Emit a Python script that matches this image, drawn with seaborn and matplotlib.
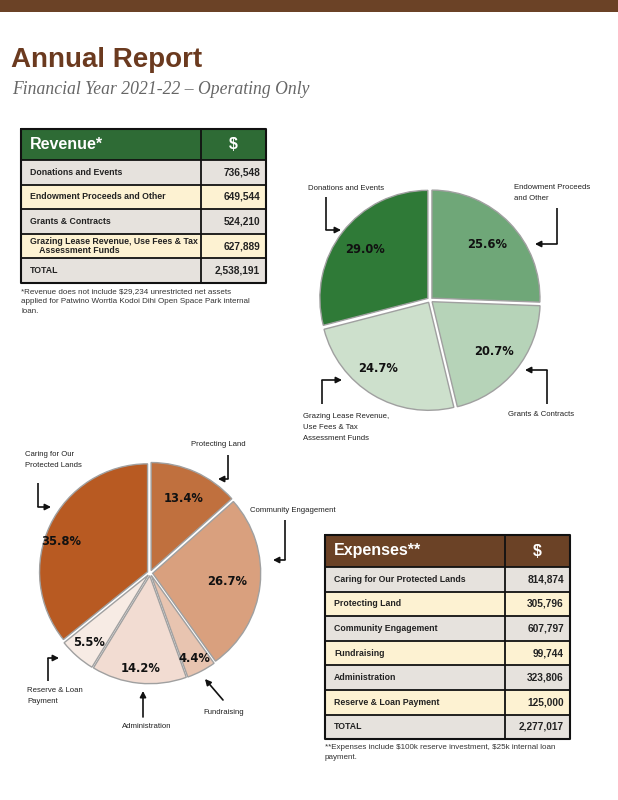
import numpy as np
import matplotlib
matplotlib.use("Agg")
import matplotlib.pyplot as plt
from matplotlib.patches import Rectangle
import seaborn as sns

sns.set_style("white")
plt.rcParams['font.family'] = ['Liberation Sans', 'DejaVu Sans']

# ---------------- data ----------------
rev_labels = ["Donations and Events", "Endowment Proceeds and Other", "Grants & Contracts",
              "Grazing Lease Revenue, Use Fees & Tax\n    Assessment Funds"]
rev_pie_labels = ["Donations and Events", "Endowment Proceeds\nand Other", "Grants & Contracts",
                  "Grazing Lease Revenue,\nUse Fees & Tax\nAssessment Funds"]
rev_values = [736548, 649544, 524210, 627889]
rev_total = 2538191

exp_labels = ["Caring for Our Protected Lands", "Protecting Land", "Community Engagement",
              "Fundraising", "Administration", "Reserve & Loan Payment"]
exp_pie_labels = ["Caring for Our\nProtected Lands", "Protecting Land", "Community Engagement",
                  "Fundraising", "Administration", "Reserve & Loan\nPayment"]
exp_values = [814874, 305796, 607797, 99744, 323806, 125000]
exp_total = 2277017

rev_colors = ["#2f7a37", "#6fa778", "#b6d3b8", "#cde0cc"]
exp_colors = ["#b85a22", "#c0703e", "#d9a07e", "#e8c4b0", "#f2dcd2", "#f7ebe4"]

W, H = 618, 800
fig = plt.figure(figsize=(W / 100, H / 100), dpi=100)
bg = fig.add_axes([0, 0, 1, 1])
bg.set_xlim(0, W)
bg.set_ylim(H, 0)
bg.axis("off")

BROWN = "#6b4226"
GRAY_ROW = "#e6e2dd"
CREAM_ROW = "#fdf2d2"

# top bar
bg.add_patch(Rectangle((0, 0), W, 12, color=BROWN, lw=0))
bg.text(11, 60, "Annual Report", fontsize=20, fontweight="bold", color="#6b3a1f",
        va="center", ha="left")
bg.text(12, 90, "Financial Year 2021-22 \u2013 Operating Only", fontsize=12.7,
        family=["Liberation Serif", "DejaVu Serif"], style="italic", color="#666666",
        va="center", ha="left")


def draw_table(x0, y0, x1, xsplit, head_h, row_h, title, head_color, labels, values, total):
    rows = list(zip(labels, values)) + [("TOTAL", total)]
    n = len(rows)
    y_end = y0 + head_h + n * row_h
    bg.add_patch(Rectangle((x0, y0), x1 - x0, head_h, color=head_color, lw=0))
    bg.text(x0 + 9, y0 + head_h / 2, title, color="white", fontsize=11.5, fontweight="bold",
            va="center", ha="left")
    bg.text((xsplit + x1) / 2, y0 + head_h / 2, "$", color="white", fontsize=11.5,
            fontweight="bold", va="center", ha="center")
    for i, (lab, val) in enumerate(rows):
        yt = y0 + head_h + i * row_h
        fc = GRAY_ROW if i % 2 == 0 else CREAM_ROW
        if i == n - 1:
            fc = GRAY_ROW
        bg.add_patch(Rectangle((x0, yt), x1 - x0, row_h, facecolor=fc, edgecolor="none"))
        bg.plot([x0, x1], [yt, yt], color="#111111", lw=1.3)
        bg.text(x0 + 9, yt + row_h / 2, lab, fontsize=6.3, fontweight="bold",
                color="#222222", va="center", ha="left", linespacing=1.05)
        bg.text(x1 - 6, yt + row_h / 2, f"{val:,}", fontsize=7.3, fontweight="bold",
                color="#222222", va="center", ha="right")
    bg.plot([x0, x1, x1, x0, x0], [y0, y0, y_end, y_end, y0], color="#111111", lw=1.5)
    bg.plot([xsplit, xsplit], [y0, y_end], color="#111111", lw=1.3)
    return y_end


draw_table(21, 129, 266, 201, 31, 24.6, "Revenue*", "#2e6b35",
           rev_labels, rev_values, rev_total)
bg.text(21, 288, "*Revenue does not include \\$29,234 unrestricted net assets\n"
                 "applied for Patwino Worrtla Kodoi Dihi Open Space Park internal\nloan.",
        fontsize=5.8, color="#333333", va="top", ha="left", linespacing=1.6)

draw_table(325, 535, 570, 505, 32, 24.6, "Expenses**", BROWN,
           exp_labels, exp_values, exp_total)
bg.text(325, 744, "**Expenses include \\$100k reserve investment, \\$25k internal loan\npayment.",
        fontsize=5.8, color="#333333", va="top", ha="left", linespacing=1.6)


def draw_pie(cx, cy, r, values, colors, label_pos):
    half = r * 1.08
    ax = fig.add_axes([(cx - half) / W, 1 - (cy + half) / H, 2 * half / W, 2 * half / H])
    frac = np.array(values) / np.sum(values)
    start = 90 + 360 * frac[0]
    wedges, _ = ax.pie(values, colors=colors, startangle=start, counterclock=False,
                       explode=[0.025] * len(values),
                       wedgeprops=dict(edgecolor="#a0a0a0", linewidth=1.0))
    for w, f, (lr, dth) in zip(wedges, frac, label_pos):
        th = np.deg2rad((w.theta1 + w.theta2) / 2 + dth)
        ax.text(lr * np.cos(th), lr * np.sin(th), f"{f * 100:.1f}%", fontsize=8.3,
                family="DejaVu Sans", fontweight="bold", color="#111111",
                ha="center", va="center")
    ax.set_xlim(-1.08, 1.08)
    ax.set_ylim(-1.08, 1.08)
    ax.set_aspect("equal")
    ax.axis("off")
    return ax


draw_pie(430, 300, 108, rev_values, rev_colors,
         [(0.76, 0), (0.74, 0), (0.76, 0), (0.80, -6)])
draw_pie(150, 573, 108, exp_values, exp_colors,
         [(0.87, 6), (0.76, 0), (0.72, 0), (0.89, 0), (0.89, 0), (0.86, 0)])


def elbow(pts):
    xs = [p[0] for p in pts]
    ys = [p[1] for p in pts]
    bg.plot(xs[:-1], ys[:-1], color="#111111", lw=1.2, solid_capstyle="butt")
    bg.annotate("", xy=pts[-1], xytext=pts[-2],
                arrowprops=dict(arrowstyle="-|>,head_length=0.35,head_width=0.18",
                                color="#111111", lw=1.2, shrinkA=0, shrinkB=0))


def arrow(p_from, p_to):
    bg.annotate("", xy=p_to, xytext=p_from,
                arrowprops=dict(arrowstyle="-|>,head_length=0.35,head_width=0.18",
                                color="#111111", lw=1.2, shrinkA=0, shrinkB=0))


LFS = 5.6
lab_kw = dict(fontsize=LFS, color="#222222", linespacing=1.75)

# revenue annotations
bg.text(308, 188, rev_pie_labels[0], va="center", ha="left", **lab_kw)
elbow([(326, 197), (326, 230), (341, 230)])
bg.text(514, 184, rev_pie_labels[1], va="top", ha="left", **lab_kw)
elbow([(557, 208), (557, 244), (535, 244)])
bg.text(508, 414, rev_pie_labels[2], va="center", ha="left", **lab_kw)
elbow([(547, 404), (547, 370), (525, 370)])
bg.text(303, 413, rev_pie_labels[3], va="top", ha="left", **lab_kw)
elbow([(322, 404), (322, 380), (342, 380)])

# expense annotations
bg.text(25, 451, exp_pie_labels[0], va="top", ha="left", **lab_kw)
elbow([(38, 483), (38, 507), (51, 507)])
bg.text(191, 444, exp_pie_labels[1], va="center", ha="left", **lab_kw)
elbow([(228, 455), (228, 479), (218, 479)])
bg.text(250, 510, exp_pie_labels[2], va="center", ha="left", **lab_kw)
elbow([(285, 520), (285, 560), (273, 560)])
bg.text(203, 712, exp_pie_labels[3], va="center", ha="left", **lab_kw)
arrow((223, 700), (205, 679))
bg.text(147, 727, exp_pie_labels[4], va="center", ha="center", **lab_kw)
arrow((143, 717), (143, 691))
bg.text(27, 687, exp_pie_labels[5], va="top", ha="left", **lab_kw)
elbow([(48, 681), (48, 658), (59, 658)])

fig.savefig("out.png", dpi=100)
